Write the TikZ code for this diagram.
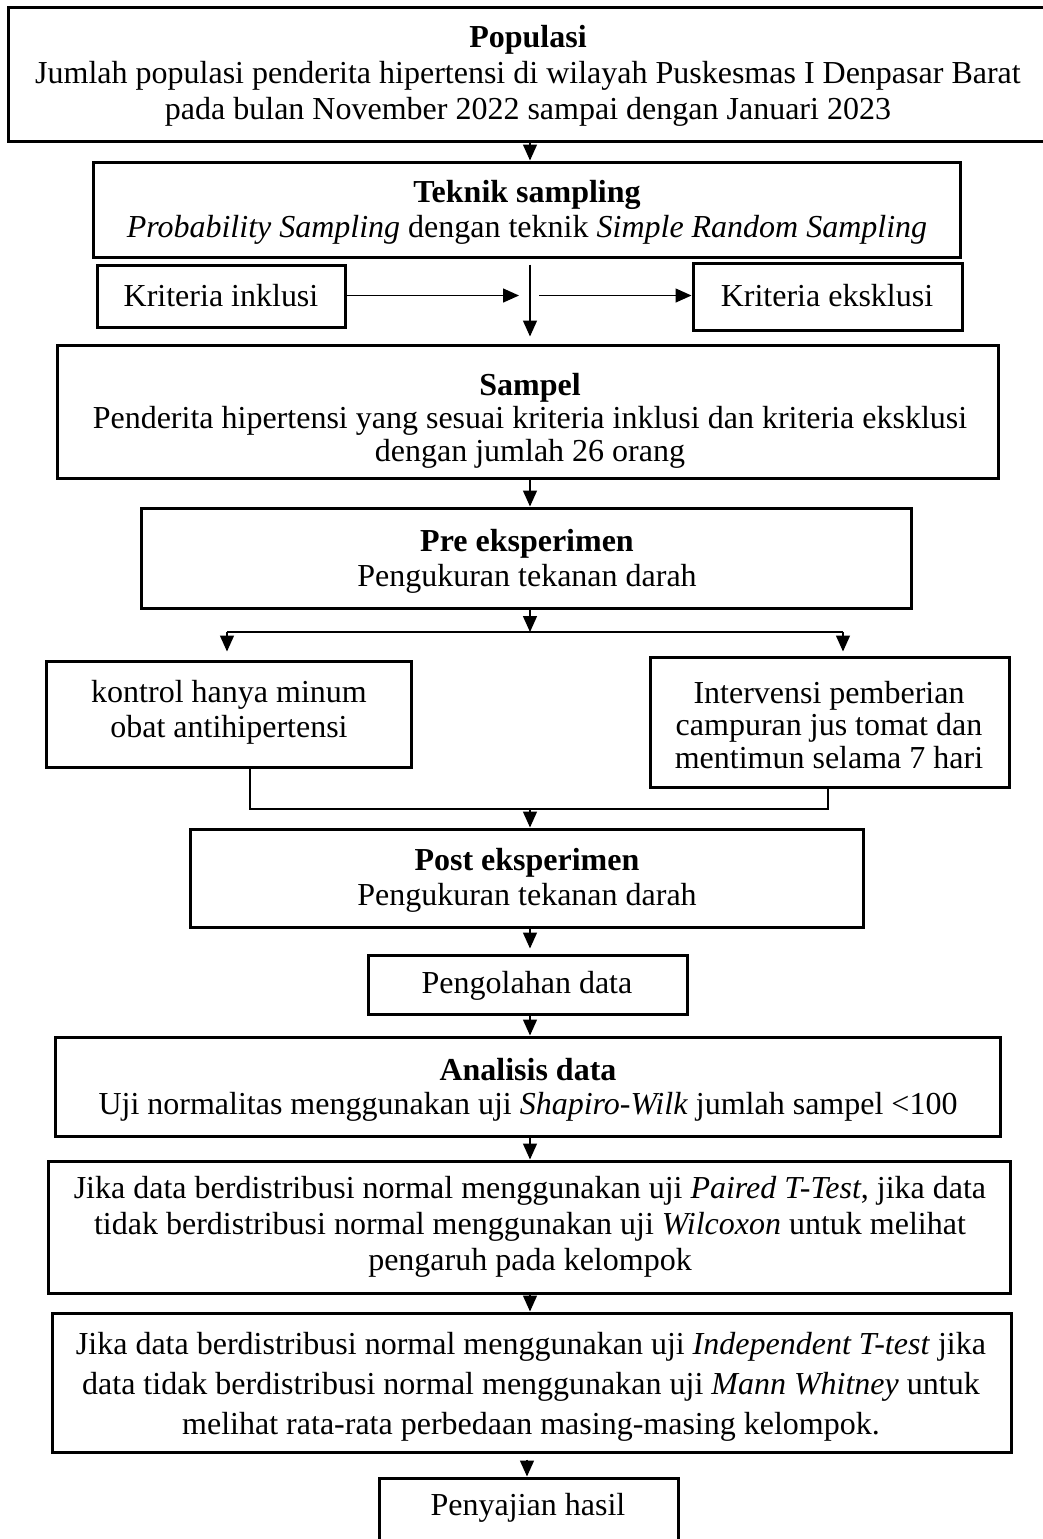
\documentclass[tikz,border=0pt]{standalone}
\usepackage{fontspec}
\setmainfont{Liberation Serif}
\usetikzlibrary{arrows.meta,fit}
\begin{document}
\begin{tikzpicture}[x=0.5pt,y=-0.5pt,
  bx/.style={draw, line width=1.5pt, inner sep=0pt, rectangle},
  txt/.style={align=center, inner sep=0pt},
  arr/.style={line width=0.7pt, -{Triangle[length=8pt,width=7pt]}},
  ln/.style={line width=0.7pt}]
\useasboundingbox (0,0) rectangle (1043,1539);
\clip (0,0) rectangle (1043,1539);
% boxes
\node[bx, fit={(8,7) (1050,141)}] (pop) {};
\node[bx, fit={(93,162) (960,257)}] (tek) {};
\node[bx, fit={(97,265) (345,327)}] (ink) {};
\node[bx, fit={(693,263) (962,330)}] (eks) {};
\node[bx, fit={(57,345) (998,478)}] (sam) {};
\node[bx, fit={(141,508) (911,608)}] (pre) {};
\node[bx, fit={(46,661) (411,767)}] (kon) {};
\node[bx, fit={(650,657) (1009,787)}] (int) {};
\node[bx, fit={(190,829) (863,927)}] (post) {};
\node[bx, fit={(368,955) (687,1014)}] (peng) {};
\node[bx, fit={(55,1037) (1000,1136)}] (anal) {};
\node[bx, fit={(48,1161) (1010,1293)}] (jA) {};
\node[bx, fit={(52,1313) (1011,1452)}] (jB) {};
\node[bx, fit={(379,1478) (678,1560)}] (peny) {};
% texts
\node[txt, font=\fontsize{16}{18}\selectfont] (popT) at (528,76)
  {\textbf{Populasi}\\Jumlah populasi penderita hipertensi di wilayah Puskesmas I Denpasar Barat\\pada bulan November 2022 sampai dengan Januari 2023};
\node[txt, font=\fontsize{16}{17.5}\selectfont] (tekT) at (527,212)
  {\textbf{Teknik sampling}\\\textit{Probability Sampling} dengan teknik \textit{Simple Random Sampling}};
\node[txt, font=\fontsize{16}{18}\selectfont] (inkT) at (221,296) {Kriteria inklusi};
\node[txt, font=\fontsize{16}{18}\selectfont] (eksT) at (827,296) {Kriteria eksklusi};
\node[txt, font=\fontsize{16}{16.5}\selectfont] (samT) at (530,421)
  {\textbf{Sampel}\\Penderita hipertensi yang sesuai kriteria inklusi dan kriteria eksklusi\\dengan jumlah 26 orang};
\node[txt, font=\fontsize{16}{17.5}\selectfont] (preT) at (527,561)
  {\textbf{Pre eksperimen}\\Pengukuran tekanan darah};
\node[txt, font=\fontsize{16}{17.5}\selectfont] (konT) at (229,712)
  {kontrol hanya minum\\obat antihipertensi};
\node[txt, font=\fontsize{16}{16.25}\selectfont] (intT) at (829,725)
  {Intervensi pemberian\\campuran jus tomat dan\\mentimun selama 7 hari};
\node[txt, font=\fontsize{16}{17.5}\selectfont] (postT) at (527,880)
  {\textbf{Post eksperimen}\\Pengukuran tekanan darah};
\node[txt, font=\fontsize{16}{18}\selectfont] (pengT) at (527,986) {Pengolahan data};
\node[txt, font=\fontsize{16}{17}\selectfont] (analT) at (528,1090)
  {\textbf{Analisis data}\\Uji normalitas menggunakan uji \textit{Shapiro-Wilk} jumlah sampel <100};
\node[txt, font=\fontsize{16}{18}\selectfont] (jAT) at (530,1227)
  {Jika data berdistribusi normal menggunakan uji \textit{Paired T-Test}, jika data\\tidak berdistribusi normal menggunakan uji \textit{Wilcoxon} untuk melihat\\pengaruh pada kelompok};
\node[txt, font=\fontsize{16}{20}\selectfont] (jBT) at (531,1387)
  {Jika data berdistribusi normal menggunakan uji \textit{Independent T-test} jika\\data tidak berdistribusi normal menggunakan uji \textit{Mann Whitney} untuk\\melihat rata-rata perbedaan masing-masing kelompok.};
\node[txt, font=\fontsize{16}{18}\selectfont] (penyT) at (528,1508) {Penyajian hasil};
% connectors
\coordinate (cx) at (530,0);
\draw[arr] (pop.south -| cx) -- (tek.north -| cx);
\draw[arr, shorten <=3pt, shorten >=3.5pt] (tek.south -| cx) -- (sam.north -| cx);
\coordinate (kL) at (519,295.5);
\coordinate (kR) at (539,295.5);
\draw[arr] (ink.east |- kL) -- (kL);
\draw[arr] (kR) -- (eks.west |- kR);
\draw[arr] (sam.south -| cx) -- (pre.north -| cx);
\coordinate (bL) at (227,632);
\coordinate (bR) at (843,632);
\draw[ln] (bL) -- (bR);
\draw[arr] (pre.south -| cx) -- (bL -| cx);
\draw[arr, shorten >=4pt] (bL) -- (kon.north -| bL);
\draw[arr, shorten >=2pt] (bR) -- (int.north -| bR);
\coordinate (mL) at (250,809);
\coordinate (mR) at (828,809);
\draw[ln] (kon.south -| mL) -- (mL) -- (mR) -- (int.south -| mR);
\draw[arr] (mL -| cx) -- (post.north -| cx);
\draw[arr, shorten >=2.5pt] (post.south -| cx) -- (peng.north -| cx);
\draw[arr] (peng.south -| cx) -- (anal.north -| cx);
\draw[arr] (anal.south -| cx) -- (jA.north -| cx);
\draw[arr] (jA.south -| cx) -- (jB.north -| cx);
\coordinate (cy) at (527,0);
\draw[arr, shorten <=3pt] (jB.south -| cy) -- (peny.north -| cy);
\end{tikzpicture}
\end{document}
